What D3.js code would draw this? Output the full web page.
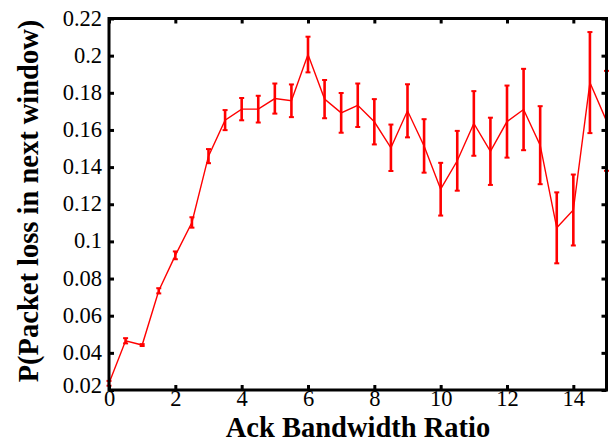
<!DOCTYPE html>
<html><head><meta charset="utf-8">
<script src="https://cdn.jsdelivr.net/npm/d3@7"></script>
<style>body{margin:0;background:#fff}svg{display:block}</style>
</head><body>
<svg id="c" width="613" height="442"></svg>
<script>
const ratios = [0,0.5,1,1.5,2,2.5,3,3.5,4,4.5,5,5.5,6,6.5,7,7.5,8,8.5,9,9.5,10,10.5,11,11.5,12,12.5,13,13.5,14,14.5,15];
const lossProb = [0.0236,0.0465,0.0442,0.0734,0.0925,0.1102,0.1459,0.1653,0.1712,0.1712,0.1769,0.1757,0.2006,0.1766,0.1692,0.1733,0.1644,0.1504,0.1703,0.1514,0.1281,0.1434,0.1635,0.1485,0.1645,0.171,0.1518,0.1073,0.1169,0.1855,0.1649];
const errHalf = [0.0013,0.0014,0.0005,0.0014,0.0021,0.0028,0.0038,0.0054,0.006,0.0072,0.0081,0.0088,0.0096,0.0103,0.0107,0.0117,0.0122,0.0125,0.0143,0.0144,0.0142,0.0161,0.0174,0.0181,0.0194,0.0219,0.021,0.0191,0.0191,0.0272,0.0269];
const xTicks = [0,2,4,6,8,10,12,14];
const yTicks = [0.02,0.04,0.06,0.08,0.1,0.12,0.14,0.16,0.18,0.2,0.22];
const xTitle = "Ack Bandwidth Ratio";
const yTitle = "P(Packet loss in next window)";

const svg = d3.select("#c");
const m = {l:109, r:6.5, t:18.5, b:52};
const W = 613, H = 442;
const x = d3.scaleLinear().domain([0,15]).range([m.l, W-m.r]);
const y = d3.scaleLinear().domain([0.02,0.22]).range([H-m.b, m.t]);
const fmt = d => String(+d.toFixed(2));
const font = "'Liberation Serif','Times New Roman',serif";

const data = ratios.map((r,i)=>({r, v:lossProb[i], e:errHalf[i]}));

// line
svg.append("path").datum(data)
  .attr("d", d3.line().x(d=>x(d.r)).y(d=>y(d.v)))
  .attr("fill","none").attr("stroke","#ff0000").attr("stroke-width",1.4);

// error bars
const eb = svg.append("g").attr("stroke","#ff0000").attr("stroke-width",2.6);
data.forEach(d=>{
  const cx = x(d.r), y1 = y(d.v - d.e), y2 = y(d.v + d.e);
  eb.append("line").attr("x1",cx).attr("x2",cx).attr("y1",y1).attr("y2",y2);
  eb.append("line").attr("x1",cx-2.5).attr("x2",cx+2.5).attr("y1",y1).attr("y2",y1).attr("stroke-width",2);
  eb.append("line").attr("x1",cx-2.5).attr("x2",cx+2.5).attr("y1",y2).attr("y2",y2).attr("stroke-width",2);
});

// axes
const tl = 5;
const axB = svg.append("g").attr("transform",`translate(0,${H-m.b})`)
  .call(d3.axisBottom(x).tickValues(xTicks).tickFormat(fmt).tickSizeInner(-tl).tickSizeOuter(0).tickPadding(1));
const axT = svg.append("g").attr("transform",`translate(0,${m.t})`)
  .call(d3.axisTop(x).tickValues(xTicks).tickFormat("").tickSizeInner(-tl).tickSizeOuter(0));
const axL = svg.append("g").attr("transform",`translate(${m.l},0)`)
  .call(d3.axisLeft(y).tickValues(yTicks).tickFormat(fmt).tickSizeInner(-tl).tickSizeOuter(0).tickPadding(7));
const axR = svg.append("g").attr("transform",`translate(${W-m.r},0)`)
  .call(d3.axisRight(y).tickValues(yTicks).tickFormat("").tickSizeInner(-tl).tickSizeOuter(0));
[axB,axT,axL,axR].forEach(a=>{
  a.select(".domain").remove();
  a.selectAll(".tick line").attr("stroke","#000").attr("stroke-width",3);
  a.selectAll("text").attr("font-family",font).attr("font-size",22.5).attr("fill","#000");
});
axL.selectAll("text").attr("dy",d=> d===0.02 ? "0.1em" : "0.29em");
axB.selectAll("text").attr("dy","0.68em");

// frame
svg.append("rect").attr("x",m.l).attr("y",m.t).attr("width",W-m.r-m.l).attr("height",H-m.b-m.t)
  .attr("fill","none").attr("stroke","#000").attr("stroke-width",3);

// titles
svg.append("text").attr("x",358).attr("y",437).attr("text-anchor","middle")
  .attr("font-family",font).attr("font-weight","bold").attr("font-size",28.5).text(xTitle);
svg.append("text").attr("transform",`translate(38,201) rotate(-90)`).attr("text-anchor","middle")
  .attr("font-family",font).attr("font-weight","bold").attr("font-size",28.5).text(yTitle);
</script>
</body></html>
